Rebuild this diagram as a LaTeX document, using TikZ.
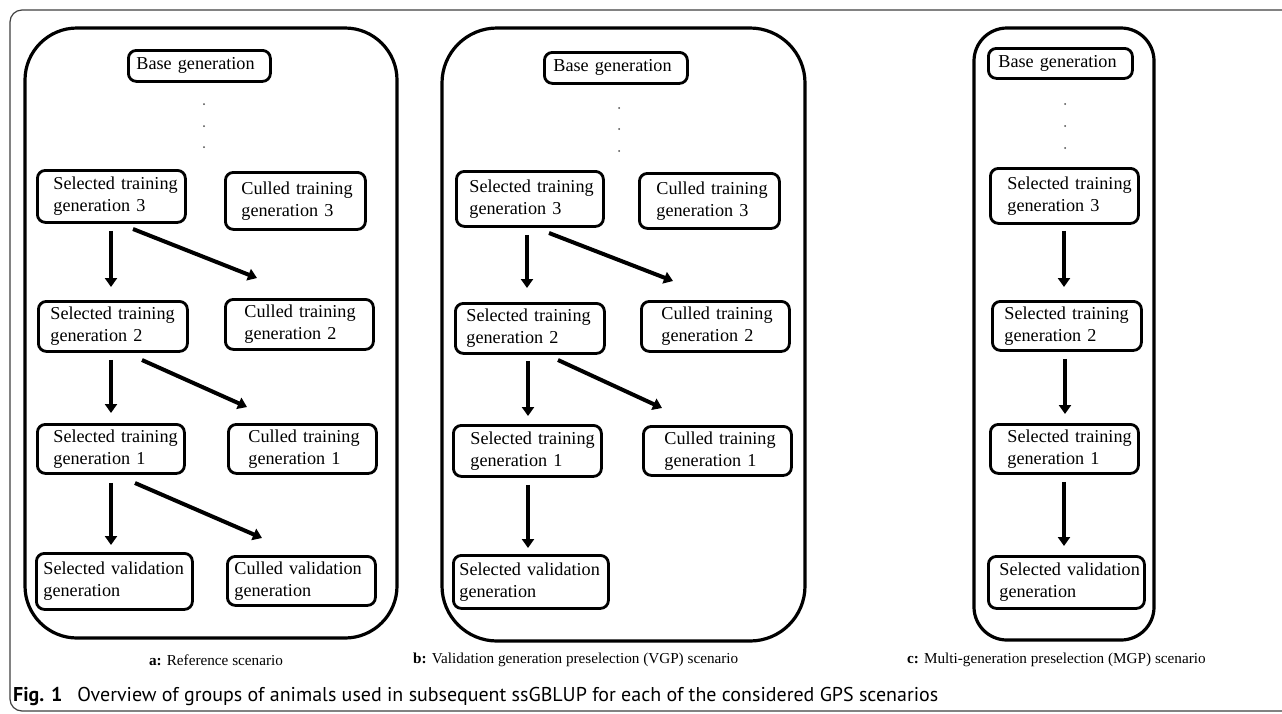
\documentclass[tikz,border=0pt]{standalone}
\usepackage{fontspec}
\setmainfont{Liberation Serif}
\newfontfamily\capfont{PT Sans}
\usetikzlibrary{arrows.meta,calc}
\hyphenpenalty=10000
\exhyphenpenalty=10000
\begin{document}
\begin{tikzpicture}[x=1pt,y=-1pt,
  gbox/.style={draw, line width=2.8pt, rounded corners=8pt, anchor=north west,
    inner ysep=0pt, align=left, font=\fontsize{18.2}{22}\selectfont},
  panel/.style={draw, line width=3.2pt},
  arr/.style={line width=4pt, -{Triangle[length=9pt,width=12pt]}},
  vdot/.style={fill=black!70, circle, inner sep=0pt, minimum size=2pt},
  lab/.style={font=\fontsize{15.2}{18}\selectfont, inner sep=0pt},
  frame/.style={draw=black!75, line width=1.2pt, rounded corners=12pt}]
\useasboundingbox (0,0) rectangle (1282,713);
\fill[white] (0,0) rectangle (1282,713);
\draw[frame] (1300,10) -- (10,10) -- (10,711) -- (1300,711);

% panels
\draw[panel, rounded corners=52pt] (25,28) rectangle (397,638);
\draw[panel, rounded corners=55pt] (442,28) rectangle (805,641);
\draw[panel, rounded corners=33pt] (974,28) rectangle (1154,640);

% panel a
\node[gbox, minimum width=142pt, minimum height=31pt, inner xsep=8pt, text width=126pt] (A0) at (127,49) {\mbox{Base generation}};
\node[gbox, minimum width=148pt, minimum height=52pt, inner xsep=16pt, text width=116pt] (A3s) at (36,169) {\mbox{Selected training}\\\mbox{generation 3}};
\node[gbox, minimum width=140pt, minimum height=57pt, inner xsep=16pt, text width=108pt] (A3c) at (224,171) {\mbox{Culled training}\\\mbox{generation 3}};
\node[gbox, minimum width=149pt, minimum height=50pt, inner xsep=12pt, text width=125pt] (A2s) at (37,300) {\mbox{Selected training}\\\mbox{generation 2}};
\node[gbox, minimum width=148pt, minimum height=50pt, inner xsep=19pt, text width=110pt] (A2c) at (224,298) {\mbox{Culled training}\\\mbox{generation 2}};
\node[gbox, minimum width=147pt, minimum height=49pt, inner xsep=16pt, text width=115pt] (A1s) at (36,423) {\mbox{Selected training}\\\mbox{generation 1}};
\node[gbox, minimum width=148pt, minimum height=49pt, inner xsep=20pt, text width=108pt] (A1c) at (227,423) {\mbox{Culled training}\\\mbox{generation 1}};
\node[gbox, minimum width=156pt, minimum height=56pt, inner xsep=7pt, text width=142pt] (AVs) at (35,552) {\mbox{Selected validation}\\\mbox{generation}};
\node[gbox, minimum width=148pt, minimum height=49pt, inner xsep=7pt, text width=134pt] (AVc) at (226,555) {\mbox{Culled validation}\\\mbox{generation}};

\node[vdot] (ad1) at (204,104) {};
\node[vdot] (ad2) at (204,126) {};
\node[vdot] (ad3) at (204,147) {};

\coordinate (a1a) at (133,229); \coordinate (a1b) at (257,278);
\coordinate (a2a) at (142,360); \coordinate (a2b) at (247,407);
\coordinate (a3a) at (135,483); \coordinate (a3b) at (262,538);
\draw[arr, shorten <=7pt, shorten >=13pt] (A3s.south -| 111,0) -- (A2s.north -| 111,0);
\draw[arr, shorten <=7pt, shorten >=10pt] (A2s.south -| 111,0) -- (A1s.north -| 111,0);
\draw[arr, shorten <=8pt, shorten >=7pt] (A1s.south -| 111,0) -- (AVs.north -| 111,0);
\draw[arr] (a1a) -- (a1b);
\draw[arr] (a2a) -- (a2b);
\draw[arr] (a3a) -- (a3b);

% panel b
\node[gbox, minimum width=143pt, minimum height=31pt, inner xsep=9pt, text width=125pt] (B0) at (543,51) {\mbox{Base generation}};
\node[gbox, minimum width=147pt, minimum height=55pt, inner xsep=13pt, text width=121pt] (B3s) at (455,170) {\mbox{Selected training}\\\mbox{generation 3}};
\node[gbox, minimum width=140pt, minimum height=55pt, inner xsep=17pt, text width=106pt] (B3c) at (638,172) {\mbox{Culled training}\\\mbox{generation 3}};
\node[gbox, minimum width=149pt, minimum height=50pt, inner xsep=11pt, text width=127pt] (B2s) at (454,302) {\mbox{Selected training}\\\mbox{generation 2}};
\node[gbox, minimum width=148pt, minimum height=50pt, inner xsep=20pt, text width=108pt] (B2c) at (640,300) {\mbox{Culled training}\\\mbox{generation 2}};
\node[gbox, minimum width=148pt, minimum height=51pt, inner xsep=17pt, text width=114pt] (B1s) at (452,424) {\mbox{Selected training}\\\mbox{generation 1}};
\node[gbox, minimum width=148pt, minimum height=49pt, inner xsep=21pt, text width=106pt] (B1c) at (642,425) {\mbox{Culled training}\\\mbox{generation 1}};
\node[gbox, minimum width=155pt, minimum height=53pt, inner xsep=6pt, text width=143pt] (BVs) at (452,554) {\mbox{Selected validation}\\\mbox{generation}};

\node[vdot] (bd1) at (619,108) {};
\node[vdot] (bd2) at (619,129) {};
\node[vdot] (bd3) at (619,151) {};

\coordinate (b1a) at (549,233); \coordinate (b1b) at (673,281);
\coordinate (b2a) at (558,360); \coordinate (b2b) at (662,408);
\draw[arr, shorten <=7pt, shorten >=14pt] (B3s.south -| 527,0) -- (B2s.north -| 527,0);
\draw[arr, shorten <=6pt, shorten >=8pt] (B2s.south -| 528,0) -- (B1s.north -| 528,0);
\draw[arr, shorten <=7pt, shorten >=6pt] (B1s.south -| 528,0) -- (BVs.north -| 528,0);
\draw[arr] (b1a) -- (b1b);
\draw[arr] (b2a) -- (b2b);

% panel c
\node[gbox, minimum width=144pt, minimum height=30pt, inner xsep=10pt, text width=124pt] (C0) at (987,47) {\mbox{Base generation}};
\node[gbox, minimum width=148pt, minimum height=55pt, inner xsep=17pt, text width=114pt] (C3s) at (989,167) {\mbox{Selected training}\\\mbox{generation 3}};
\node[gbox, minimum width=149pt, minimum height=49pt, inner xsep=12pt, text width=125pt] (C2s) at (991,300) {\mbox{Selected training}\\\mbox{generation 2}};
\node[gbox, minimum width=148pt, minimum height=49pt, inner xsep=17pt, text width=114pt] (C1s) at (989,423) {\mbox{Selected training}\\\mbox{generation 1}};
\node[gbox, minimum width=156pt, minimum height=52pt, inner xsep=11pt, text width=134pt] (CVs) at (987,555) {\mbox{Selected validation}\\\mbox{generation}};

\node[vdot] (cd1) at (1065,104) {};
\node[vdot] (cd2) at (1065,126) {};
\node[vdot] (cd3) at (1065,148) {};

\draw[arr, shorten <=6pt, shorten >=13pt] (C3s.south -| 1064,0) -- (C2s.north -| 1064,0);
\draw[arr, shorten <=7pt, shorten >=9pt] (C2s.south -| 1065,0) -- (C1s.north -| 1065,0);
\draw[arr, shorten <=7pt, shorten >=9pt] (C1s.south -| 1064,0) -- (CVs.north -| 1064,0);

% labels
\node[lab] (la) at (216,660) {\textbf{a:} Reference scenario};
\node[lab, anchor=west] (lb) at (413,660) {\textbf{b:} Validation generation preselection (VGP) scenario};
\node[lab, anchor=west] (lc) at (907,660) {\textbf{c:} Multi-generation preselection (MGP) scenario};

% caption
\node[anchor=west, inner sep=0pt] (cap) at (13,696) {\resizebox{925pt}{!}{\capfont{\bfseries Fig. 1}\hspace{0.75em}Overview of groups of animals used in subsequent ssGBLUP for each of the considered GPS scenarios}};
\end{tikzpicture}
\end{document}
